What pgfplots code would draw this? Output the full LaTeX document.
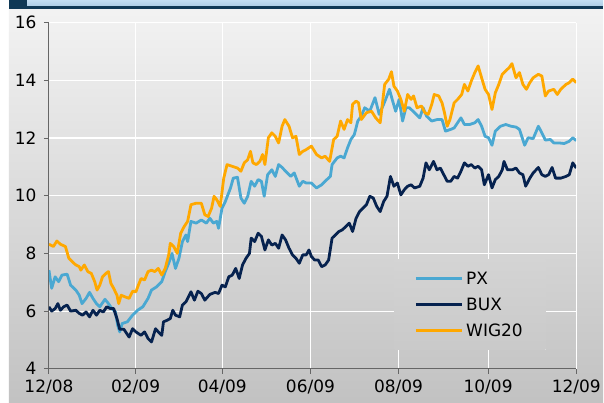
\documentclass[border=0pt]{standalone}
\usepackage{pgfplots}
\pgfplotsset{compat=1.18}
\usepackage{pgfplotstable}
\usepackage{fontspec}
\setmainfont{DejaVu Sans}
\definecolor{pxcol}{HTML}{4AA8D2}
\definecolor{buxcol}{HTML}{06224F}
\definecolor{wigcol}{HTML}{FFA800}
\definecolor{barnavy}{HTML}{0F3855}
\definecolor{barblue}{HTML}{B3D5EF}

\pgfplotstableread{
d v
0 7.42
1.9 6.79
4.3 7.19
6.7 7.02
9.0 7.25
12.6 7.28
15.0 6.90
18.6 6.73
21.0 6.55
22.9 6.26
25.7 6.44
28.1 6.65
30.5 6.44
32.9 6.26
35.2 6.15
38.8 6.41
41.2 6.26
43.6 6.09
46.0 5.97
47.6 5.51
49.0 5.28
50.7 5.57
54.3 5.63
57.9 5.86
61.4 6.03
65.0 6.15
68.6 6.44
71.0 6.73
74.5 6.84
78.1 7.02
80.5 7.37
82.9 7.66
85.2 8.00
87.6 7.48
90.0 7.83
92.4 8.41
94.8 8.64
96.0 8.41
98.3 9.11
101.9 9.05
105.5 9.16
109.0 9.05
111.4 9.22
113.8 9.05
116.2 9.11
117.4 8.87
119.8 9.57
122.1 9.80
125.7 10.27
127.6 10.61
130.5 10.64
132.9 9.92
135.2 9.74
137.6 9.98
140.0 10.50
142.4 10.33
144.8 10.56
147.1 10.50
149.0 9.98
151.4 10.73
154.3 10.90
156.7 10.67
159.0 11.08
161.4 10.98
163.8 10.85
167.4 10.67
169.8 10.79
173.3 10.33
175.7 10.50
178.1 10.44
181.7 10.44
185.2 10.27
188.8 10.38
192.4 10.56
194.8 10.67
196.0 11.08
199.5 11.31
201.9 11.37
204.3 11.31
206.7 11.66
209.0 11.95
211.4 12.12
213.8 12.59
216.2 12.76
218.6 13.05
222.1 12.93
225.7 13.40
228.6 12.82
231.7 13.17
234.0 13.46
235.7 13.69
237.6 13.34
240.0 12.93
242.4 13.34
244.8 12.59
247.1 13.05
249.5 13.05
253.1 12.88
256.7 12.70
259.0 13.05
261.4 12.76
265.0 12.59
268.6 12.64
272.1 12.64
274.5 12.24
278.1 12.30
280.5 12.35
282.9 12.53
285.2 12.70
287.6 12.47
291.2 12.47
294.8 12.53
297.1 12.64
299.5 12.41
301.9 12.06
304.3 12.01
306.7 11.75
309.0 12.24
312.6 12.41
316.2 12.47
319.8 12.41
323.3 12.38
325.7 12.30
329.3 11.75
331.7 12.01
335.2 11.98
338.8 12.41
341.2 12.18
343.6 11.93
347.1 11.95
349.5 11.83
353.1 11.83
356.7 11.81
360.2 11.89
362.6 12.01
365.0 11.91
}\pxdata

\pgfplotstableread{
d v
0 6.15
1.9 6.00
4.3 6.09
6.2 6.26
7.9 6.03
10.2 6.15
12.6 6.21
15.0 6.00
18.6 6.03
21.0 5.92
23.3 5.86
25.7 5.97
28.1 5.80
30.5 6.03
32.9 5.86
35.2 6.03
37.6 5.97
40.0 6.15
42.4 6.09
44.8 6.09
47.1 5.74
49.0 5.37
51.9 5.37
55.5 5.10
57.9 5.39
60.2 5.28
63.8 5.16
66.2 5.28
68.6 5.05
71.0 4.93
73.8 5.39
75.7 5.28
78.1 5.16
79.3 5.63
81.7 5.68
84.0 5.74
85.7 6.03
87.6 5.86
90.5 5.80
92.4 6.21
94.8 6.32
98.3 6.67
100.7 6.38
103.1 6.69
105.5 6.61
107.9 6.38
111.4 6.58
115.0 6.65
117.4 6.61
119.8 6.90
122.1 6.84
124.5 7.19
126.9 7.25
129.3 7.48
131.7 7.13
134.0 7.60
136.4 7.83
138.8 8.00
140.0 8.53
142.4 8.41
144.8 8.70
147.1 8.59
149.5 8.12
151.9 8.47
154.3 8.29
156.7 8.35
159.0 8.18
161.4 8.64
163.8 8.47
166.2 8.18
168.6 7.95
171.0 7.83
173.3 7.66
175.7 7.95
178.1 7.95
180.0 8.12
181.7 7.89
184.0 7.77
186.4 7.77
188.8 7.54
191.2 7.60
193.6 7.77
196.0 8.53
198.3 8.64
200.7 8.76
203.1 8.82
205.5 8.93
207.9 9.05
210.2 8.76
212.6 9.22
215.0 9.45
217.4 9.57
219.8 9.69
222.1 9.98
224.5 9.92
226.9 9.63
229.3 9.45
231.7 9.80
234.0 9.98
236.4 10.67
238.8 10.33
241.2 10.44
243.6 10.03
246.0 10.21
248.3 10.33
250.7 10.38
253.1 10.27
256.7 10.33
259.0 10.61
261.0 11.14
263.3 10.90
266.2 11.19
268.6 10.90
271.0 10.96
273.3 10.73
275.7 10.50
278.1 10.50
280.5 10.67
282.9 10.61
285.2 10.85
287.6 11.14
290.0 11.02
292.4 11.08
294.8 10.96
297.1 11.02
299.5 10.90
301.4 10.38
304.3 10.73
306.7 10.27
309.0 10.56
311.4 10.67
313.8 10.90
315.0 11.19
317.4 10.90
320.9 10.90
323.3 10.96
325.7 10.79
328.1 10.73
330.0 10.33
332.9 10.61
335.2 10.79
338.8 10.98
341.2 10.73
343.6 10.67
345.9 10.73
348.3 10.98
350.7 10.61
354.3 10.61
357.9 10.67
360.2 10.73
362.6 11.14
365.0 10.96
}\buxdata

\pgfplotstableread{
d v
0 8.32
3.1 8.24
5.5 8.43
7.9 8.32
11.4 8.24
13.8 7.83
16.2 7.71
18.6 7.60
21.0 7.54
22.1 7.42
24.5 7.60
26.9 7.37
29.3 7.31
31.7 7.02
33.3 6.73
35.2 6.90
37.1 7.19
39.5 7.31
41.2 7.37
42.9 6.96
44.8 6.79
47.1 6.55
48.3 6.26
50.0 6.55
52.4 6.50
55.5 6.44
57.9 6.69
60.2 6.67
61.9 6.90
63.8 7.13
66.2 7.08
68.6 7.37
71.0 7.42
73.3 7.37
75.7 7.48
78.1 7.25
80.5 7.48
82.9 7.95
84.0 8.35
86.4 8.24
88.8 8.00
91.2 8.70
93.6 8.93
96.0 9.11
98.3 9.69
101.9 9.74
105.5 9.74
107.9 9.34
110.2 9.28
112.6 9.57
114.3 9.98
116.2 9.86
118.6 9.63
121.0 10.61
123.3 11.08
126.9 11.02
130.5 10.96
132.9 10.85
135.2 11.14
137.6 11.25
139.5 11.54
141.2 11.14
143.6 11.08
146.0 11.19
147.9 11.43
149.5 11.08
151.9 12.01
154.3 12.18
156.7 12.06
159.0 11.83
161.4 12.41
163.3 12.64
166.2 12.41
168.6 12.01
171.0 12.06
173.3 11.43
175.7 11.54
178.1 11.60
181.7 11.72
185.2 11.43
188.8 11.31
191.2 11.37
194.3 11.19
197.1 11.95
199.5 12.06
201.9 12.59
204.3 12.30
206.7 12.64
209.0 12.53
210.2 13.17
212.6 13.28
214.3 13.22
216.2 12.64
219.8 12.88
223.3 12.93
226.2 12.70
229.3 12.53
232.4 13.86
235.2 14.04
237.1 14.30
238.8 13.80
241.2 13.63
243.6 13.34
246.0 12.93
248.3 13.51
250.7 13.34
252.4 13.46
254.8 13.05
257.9 13.11
260.2 12.88
262.6 12.82
265.0 13.17
266.7 13.51
269.8 13.46
272.1 13.22
273.8 12.88
275.7 12.41
277.6 12.64
280.5 13.22
282.9 13.34
285.7 13.51
287.6 13.86
290.0 13.63
292.4 13.98
294.8 14.27
297.1 14.50
299.5 14.09
301.9 13.69
304.3 13.51
306.7 12.99
309.0 13.57
311.4 13.86
313.8 14.21
316.2 14.33
318.6 14.44
320.5 14.58
323.3 14.09
325.7 14.27
328.1 13.86
330.5 13.69
332.9 13.92
335.2 14.09
338.8 14.21
341.2 14.15
343.6 13.46
345.9 13.63
349.5 13.69
351.9 13.51
354.3 13.69
357.9 13.86
360.2 13.92
362.6 14.04
365.0 13.92
}\wigdata

\begin{document}
\begin{tikzpicture}[x=1bp,y=1bp]
\fill[white] (0,0) rectangle (604,403);
\shade[top color=black!5, bottom color=black!24] (9,0) rectangle (604,394);
\shade[top color=barblue!80!white, bottom color=barblue!95!black] (27,396) rectangle (604,403);
\fill[barnavy] (9,394) rectangle (604,396.5);
\fill[barnavy] (9,394) rectangle (27,403);
\begin{axis}[
  at={(49bp,33.7bp)}, anchor=south west,
  scale only axis, width=528bp, height=346.6bp,
  xmin=0, xmax=365, ymin=4, ymax=16,
  xtick={0,60,120,181,242,304,365},
  xticklabels={12/08,02/09,04/09,06/09,08/09,10/09,12/09},
  ytick={4,6,8,10,12,14,16},
  axis x line*=bottom, axis y line*=left,
  axis line style={-, draw=black!60, line width=0.9bp},
  tick align=outside, major tick length=5bp,
  tick style={draw=black!60, line width=0.9bp},
  grid=major, grid style={white, line width=1.1bp},
  /pgf/number format/assume math mode=true,
  tick label style={font=\fontsize{17bp}{20bp}\selectfont, text=black},
  xticklabel style={yshift=-3bp},
  yticklabel style={xshift=-4bp},
  legend style={at={(0.655,0.315)}, anchor=north west, draw=none,
    top color=black!17, bottom color=black!21,
    inner xsep=20bp, inner ysep=9bp,
    font=\fontsize{17bp}{20bp}\selectfont, row sep=6bp,
    nodes={inner sep=3bp}},
  legend cell align=left,
  legend image code/.code={\draw[#1] (0bp,0bp) -- (46bp,0bp);},
  every axis plot/.append style={line width=2.8bp, line join=round, mark=none},
]
\addplot[pxcol] table[x=d,y=v] {\pxdata};
\addlegendentry{PX}
\addplot[buxcol] table[x=d,y=v] {\buxdata};
\addlegendentry{BUX}
\addplot[wigcol] table[x=d,y=v] {\wigdata};
\addlegendentry{WIG20}
\end{axis}
\end{tikzpicture}
\end{document}
